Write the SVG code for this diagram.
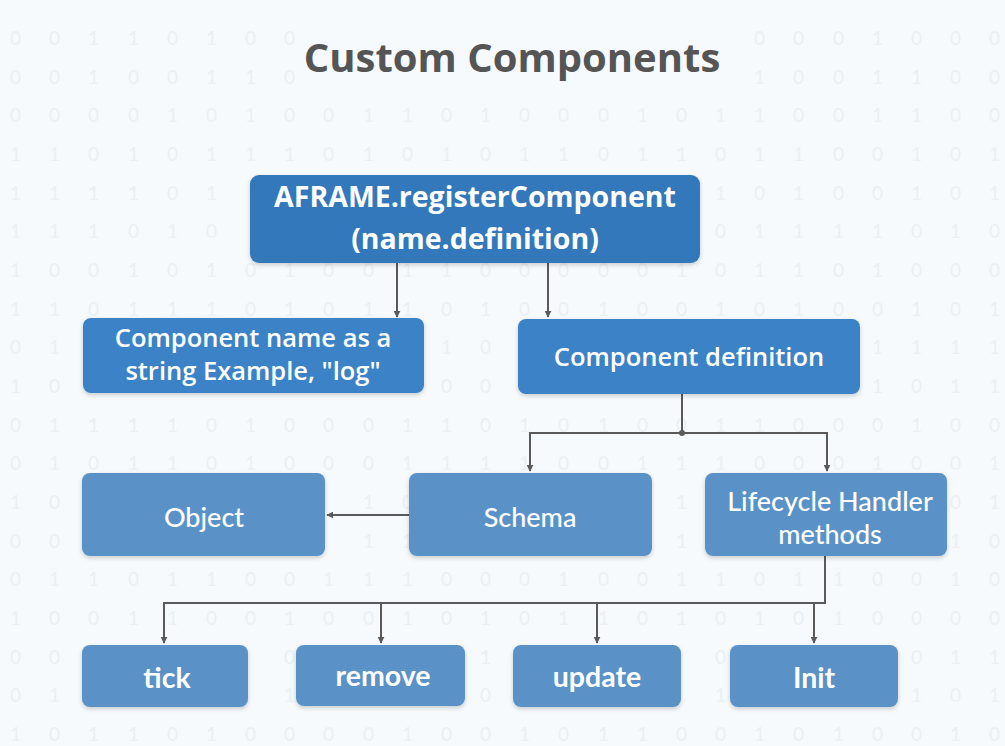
<svg xmlns="http://www.w3.org/2000/svg" width="1005" height="746" viewBox="0 0 1005 746">
<style>
.bg{font-family:Lato,"Open Sans",sans-serif;font-size:19px;fill:#ebf0f3}
.title{font-family:"Open Sans","Noto Sans",sans-serif;font-size:40px;font-weight:700;fill:#555555}
.n1{fill:#3178bb}
.n2{fill:#3b83c6}
.n3{fill:#5a92c7}
.t1{font-family:"Open Sans","Noto Sans",sans-serif;font-size:28.5px;font-weight:700;fill:#ffffff;text-anchor:middle}
.t2{font-family:"Open Sans","Noto Sans",sans-serif;font-size:25.5px;font-weight:600;fill:#ffffff;text-anchor:middle}
.t3{font-family:Lato,"Open Sans",sans-serif;font-size:27px;font-weight:500;fill:#ffffff;text-anchor:middle}
.t4{font-family:Lato,"Open Sans",sans-serif;font-size:28.5px;font-weight:700;fill:#ffffff;text-anchor:middle}
.c{fill:none;stroke:#5a5a5a;stroke-width:2}
</style>
<defs>
<marker id="ar" viewBox="0 0 10 10" refX="9" refY="5" markerWidth="7" markerHeight="7" markerUnits="userSpaceOnUse" orient="auto">
<path d="M0,0 L10,5 L0,10 z" fill="#5a5a5a"/>
</marker>
<filter id="sh" x="-10%" y="-10%" width="120%" height="130%">
<feDropShadow dx="0" dy="2" stdDeviation="2" flood-color="#000" flood-opacity="0.18"/>
</filter>
</defs>
<rect x="0" y="0" width="1005" height="746" fill="#f6fafd"/>
<g id="background-digits">
<text class="bg" y="45" x="10 49 88 128 167 206 245 284">00110100</text>
<text class="bg" y="45" x="754 793 833 872 911 950 989">0001000</text>
<text class="bg" y="84" x="10 49 88 128 167 206 245 284">00100110</text>
<text class="bg" y="84" x="754 793 833 872 911 950 989">1001100</text>
<text class="bg" y="122" x="10 49 88 128 167 206 245 284 323 363 402 441 480 519 558 598 637 676 715 754 793 833 872 911 950 989">00001010011010001011001100</text>
<text class="bg" y="161" x="10 49 88 128 167 206 245 284 323 363 402 441 480 519 558 598 637 676 715 754 793 833 872 911 950 989">11010111010101101101100101</text>
<text class="bg" y="200" x="10 49 88 128 167 206">111101</text>
<text class="bg" y="200" x="715 754 793 833 872 911 950 989">10100101</text>
<text class="bg" y="238" x="10 49 88 128 167 206">111010</text>
<text class="bg" y="238" x="715 754 793 833 872 911 950 989">01111010</text>
<text class="bg" y="277" x="10 49 88 128 167 206 245 284 323 363 402 441 480 519 558 598 637 676 715 754 793 833 872 911 950 989">10010101001100000101101000</text>
<text class="bg" y="316" x="10 49 88 128 167 206 245 284 323 363 402 441 480 519 558 598 637 676 715 754 793 833 872 911 950 989">11011101011010010010100101</text>
<text class="bg" y="354" x="10 49">01</text>
<text class="bg" y="354" x="441 480">10</text>
<text class="bg" y="354" x="872 911 950 989">1111</text>
<text class="bg" y="393" x="10 49">10</text>
<text class="bg" y="393" x="441 480">00</text>
<text class="bg" y="393" x="872 911 950 989">1011</text>
<text class="bg" y="432" x="10 49 88 128 167 206 245 284 323 363 402 441 480 519 558 598 637 676 715 754 793 833 872 911 950 989">01111010001101010011000100</text>
<text class="bg" y="470" x="10 49 88 128 167 206 245 284 323 363 402 441 480 519 558 598 637 676 715 754 793 833 872 911 950 989">01011010001111001110001001</text>
<text class="bg" y="509" x="10 49">10</text>
<text class="bg" y="509" x="363 402">10</text>
<text class="bg" y="509" x="676">1</text>
<text class="bg" y="509" x="950 989">01</text>
<text class="bg" y="548" x="10 49">00</text>
<text class="bg" y="548" x="363 402">11</text>
<text class="bg" y="548" x="676">1</text>
<text class="bg" y="548" x="950 989">10</text>
<text class="bg" y="586" x="10 49 88 128 167 206 245 284 323 363 402 441 480 519 558 598 637 676 715 754 793 833 872 911 950 989">01101100111000100110110010</text>
<text class="bg" y="625" x="10 49 88 128 167 206 245 284 323 363 402 441 480 519 558 598 637 676 715 754 793 833 872 911 950 989">10011001001010110101010000</text>
<text class="bg" y="664" x="10 49">00</text>
<text class="bg" y="664" x="284">0</text>
<text class="bg" y="664" x="480">1</text>
<text class="bg" y="664" x="715">0</text>
<text class="bg" y="664" x="911 950 989">011</text>
<text class="bg" y="702" x="10 49">01</text>
<text class="bg" y="702" x="284">1</text>
<text class="bg" y="702" x="480">0</text>
<text class="bg" y="702" x="715">1</text>
<text class="bg" y="702" x="911 950 989">101</text>
<text class="bg" y="741" x="10 49 88 128 167 206 245 284 323 363 402 441 480 519 558 598 637 676 715 754 793 833 872 911 950 989">10110100001001011001010010</text>
</g>
<text class="title" x="512" y="72" text-anchor="middle">Custom Components</text>
<g id="connectors">
<path class="c" d="M397,258 V317" marker-end="url(#ar)"/>
<circle cx="397" cy="258" r="3" fill="#5a5a5a"/>
<path class="c" d="M548,258 V317" marker-end="url(#ar)"/>
<circle cx="548" cy="258" r="3" fill="#5a5a5a"/>
<path class="c" d="M682,394 V433"/>
<path class="c" d="M682,433 H530 V471" marker-end="url(#ar)"/>
<path class="c" d="M682,433 H827 V471" marker-end="url(#ar)"/>
<circle cx="682" cy="433" r="3" fill="#5a5a5a"/>
<path class="c" d="M409,515 H327" marker-end="url(#ar)"/>
<path class="c" d="M825,556 V603 H164 V643" marker-end="url(#ar)"/>
<path class="c" d="M381,603 V643" marker-end="url(#ar)"/>
<path class="c" d="M597,603 V643" marker-end="url(#ar)"/>
<path class="c" d="M814,603 V643" marker-end="url(#ar)"/>
</g>
<g id="register">
<rect class="n1" x="250" y="175" width="450" height="88" rx="9" filter="url(#sh)"/>
<text class="t1" x="475" y="207">AFRAME.registerComponent</text>
<text class="t1" x="475" y="249">(name.definition)</text>
</g>
<g id="component-name">
<rect class="n2" x="83" y="318" width="341" height="75" rx="8" filter="url(#sh)"/>
<text class="t2" x="253" y="347">Component name as a</text>
<text class="t2" x="253" y="380">string Example, "log"</text>
</g>
<g id="component-definition">
<rect class="n2" x="518" y="319" width="342" height="75" rx="8" filter="url(#sh)"/>
<text class="t2" x="689" y="366">Component definition</text>
</g>
<g id="object">
<rect class="n3" x="82" y="473" width="243" height="83" rx="8" filter="url(#sh)"/>
<text class="t3" x="204" y="527">Object</text>
</g>
<g id="schema">
<rect class="n3" x="409" y="473" width="243" height="83" rx="8" filter="url(#sh)"/>
<text class="t3" x="530" y="527">Schema</text>
</g>
<g id="lifecycle">
<rect class="n3" x="705" y="473" width="242" height="83" rx="8" filter="url(#sh)"/>
<text class="t3" x="830" y="511">Lifecycle Handler</text>
<text class="t3" x="830" y="544">methods</text>
</g>
<g id="tick">
<rect class="n3" x="82" y="645" width="166" height="62" rx="8" filter="url(#sh)"/>
<text class="t4" x="167" y="688">tick</text>
</g>
<g id="remove">
<rect class="n3" x="296" y="645" width="169" height="61" rx="8" filter="url(#sh)"/>
<text class="t4" x="383" y="686">remove</text>
</g>
<g id="update">
<rect class="n3" x="513" y="645" width="168" height="62" rx="8" filter="url(#sh)"/>
<text class="t4" x="597" y="687">update</text>
</g>
<g id="init">
<rect class="n3" x="730" y="645" width="168" height="62" rx="8" filter="url(#sh)"/>
<text class="t4" x="814" y="688">Init</text>
</g>
</svg>
